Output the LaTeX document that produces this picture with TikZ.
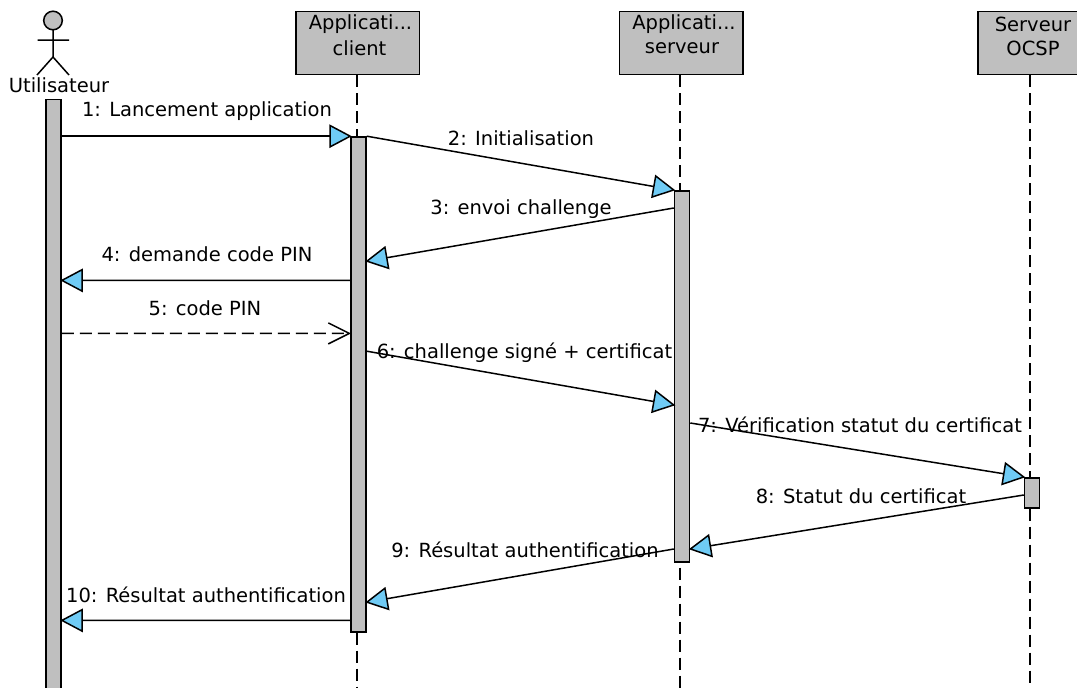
\documentclass[tikz,border=0pt]{standalone}
\usepackage{fontspec}
\setmainfont{DejaVu Sans}
\usetikzlibrary{arrows.meta,calc}
\definecolor{boxgray}{HTML}{BFBFBF}
\definecolor{tipblue}{HTML}{6FCBF5}
\tikzset{
  txt/.style={font=\fontsize{19.5}{23}\selectfont,inner sep=0pt,text=black},
  head/.style={draw,fill=boxgray,minimum width=123.5pt,minimum height=63pt,inner sep=0pt,anchor=north west},
  act/.style={draw,fill=boxgray,minimum width=15pt,inner sep=0pt,anchor=north west},
  life/.style={dash pattern=on 12pt off 6pt},
  msg/.style={shorten >=-1.5pt,-{Triangle[length=22.5pt,width=23.5pt,fill=tipblue]}},
  ret/.style={shorten >=-0.7pt,dash pattern=on 12pt off 6pt,-{Straight Barb[length=21pt,width=21pt,line width=1.5pt]}},
}
\begin{document}
\begin{tikzpicture}[x=1pt,y=-1pt,line width=1.5pt]
\useasboundingbox (0,0) rectangle (1077,688);
\begin{scope}
\clip (0,0) rectangle (1077,688);
% lifeline ends
\coordinate (clientEnd) at (357,688);
\coordinate (serverEnd) at (680,688);
\coordinate (ocspEnd) at (1030,688);
% heads
\node[head] (client) at (295.3,10.6) {};
\node[head] (server) at (618.8,10.6) {};
\node[head,minimum width=105pt] (ocsp) at (977.3,10.6) {};
% activations
\node[act,minimum height=601pt] (aUser) at (45.3,98.6) {};
\node[act,minimum height=495pt] (aClient) at (350.3,136.2) {};
\node[act,minimum height=371pt] (aServer) at (673.8,190) {};
\node[act,minimum height=30pt] (aOcsp) at (1023.8,477) {};
% lifelines
\draw[life] (clientEnd |- client.south) -- (clientEnd |- aClient.north);
\draw[life] (clientEnd |- aClient.south) -- (clientEnd);
\draw[life] (serverEnd |- server.south) -- (serverEnd |- aServer.north);
\draw[life] ($(serverEnd |- aServer.south)+(0,5)$) -- (serverEnd);
\draw[life] (ocspEnd |- ocsp.south) -- (ocspEnd |- aOcsp.north);
\draw[life] (ocspEnd |- aOcsp.south) -- (ocspEnd);
\end{scope}
% actor
\draw[fill=boxgray] (53,20.5) circle (9.3);
\draw (53,30) -- (53,57) (37.5,40) -- (69,40) (37,75) -- (53,57) -- (69,75);
\node[txt] (tUser) at (59,85.5) {Utilisateur};
% head labels
\node[txt] (t1) at (360.5,24.5) {Applicati...};
\node[txt] (t2) at (359.5,48.5) {client};
\node[txt] (t3) at (684,24.5) {Applicati...};
\node[txt] (t4) at (682,48.5) {serveur};
\node[txt] (t5) at (1033,24.5) {Serveur};
\node[txt] (t6) at (1033,48.5) {OCSP};
% messages
\draw[msg] (aUser.north east |- aClient.north) -- (aClient.north west);
\draw[msg] (aClient.north east) -- (aServer.north west);
\draw[msg] ($(aServer.north west)+(0,18)$) -- ($(aClient.north east)+(0,125)$);
\draw[msg] ($(aClient.north west)+(0,144.2)$) -- ($(aUser.north east)+(0,181.8)$);
\draw[ret] ($(aUser.north east)+(0,234.8)$) -- ($(aClient.north west)+(0,197.2)$);
\draw[msg] ($(aClient.north east)+(0,215)$) -- ($(aServer.north west)+(0,215)$);
\draw[msg] ($(aServer.north east)+(0,233)$) -- (aOcsp.north west);
\draw[msg] ($(aOcsp.north west)+(0,18)$) -- ($(aServer.north east)+(0,359)$);
\draw[msg] ($(aServer.north west)+(0,359)$) -- ($(aClient.north east)+(0,466)$);
\draw[msg] ($(aClient.north west)+(0,484.2)$) -- ($(aUser.north east)+(0,521.8)$);
% labels
\node[txt] (l1) at (207,111.5) {1: Lancement application};
\node[txt] (l2) at (521,138.5) {2: Initialisation};
\node[txt] (l3) at (521,209.5) {3: envoi challenge};
\node[txt] (l4) at (207,254.5) {4: demande code PIN};
\node[txt] (l5) at (205,308.5) {5: code PIN};
\node[txt] (l6) at (524.5,352.5) {6: challenge signé + certificat};
\node[txt] (l7) at (860,424.5) {7: Vérification statut du certificat};
\node[txt] (l8) at (861,496.5) {8: Statut du certificat};
\node[txt] (l9) at (525,549.5) {9: Résultat authentification};
\node[txt] (l10) at (206,594.5) {10: Résultat authentification};
\end{tikzpicture}
\end{document}
